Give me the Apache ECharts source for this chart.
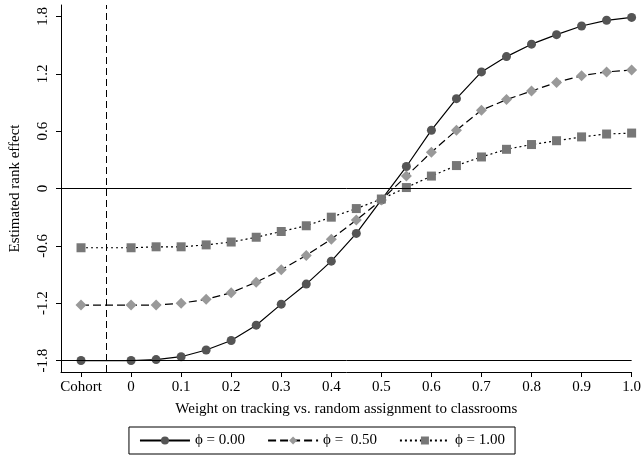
<!DOCTYPE html>
<html><head><meta charset="utf-8">
<script src="https://cdn.jsdelivr.net/npm/echarts@6/dist/echarts.min.js"></script>
<style>body{margin:0;background:#fff}#c{width:644px;height:462px}</style>
</head><body><div id="c"></div>
<script>
// x position -0.1 stands for "Cohort"
var xs = [-0.1, 0, 0.05, 0.1, 0.15, 0.2, 0.25, 0.3, 0.35, 0.4, 0.45, 0.5, 0.55, 0.6, 0.65, 0.7, 0.75, 0.8, 0.85, 0.9, 0.95, 1.0];
var phi0 = [-1.8, -1.8, -1.79, -1.76, -1.69, -1.59, -1.43, -1.21, -1.0, -0.76, -0.47, -0.12, 0.23, 0.61, 0.94, 1.22, 1.38, 1.51, 1.61, 1.7, 1.76, 1.79];
var phi50 = [-1.22, -1.22, -1.22, -1.2, -1.16, -1.09, -0.98, -0.85, -0.7, -0.53, -0.33, -0.12, 0.13, 0.38, 0.61, 0.82, 0.93, 1.02, 1.11, 1.18, 1.22, 1.24];
var phi100 = [-0.62, -0.62, -0.61, -0.61, -0.59, -0.56, -0.51, -0.45, -0.39, -0.3, -0.21, -0.11, 0.01, 0.13, 0.24, 0.33, 0.41, 0.46, 0.5, 0.54, 0.57, 0.58];
var xTicks = [-0.1, 0, 0.1, 0.2, 0.3, 0.4, 0.5, 0.6, 0.7, 0.8, 0.9, 1.0];
var yTicks = [-1.8, -1.2, -0.6, 0, 0.6, 1.2, 1.8];
var names = ['\u03d5 = 0.00', '\u03d5 =  0.50', '\u03d5 = 1.00'];

function pts(v) { return xs.map(function (x, i) { return [x, v[i]]; }); }
var font = 'Liberation Serif';
function ser(name, v, color, sym, size, type) {
  return {
    name: name, type: 'line', data: pts(v), symbol: sym, symbolSize: size,
    itemStyle: { color: color }, lineStyle: { color: '#000', width: 1.2, type: type },
    z: 3
  };
}
var s0 = ser(names[0], phi0, '#555', 'circle', 9, 'solid');
s0.markLine = {
  silent: true, symbol: 'none', label: { show: false },
  data: [
    { yAxis: 0, lineStyle: { color: '#000', width: 1, type: 'solid' } },
    { yAxis: -1.8, lineStyle: { color: '#000', width: 1, type: 'solid' } },
    { xAxis: -0.05, lineStyle: { color: '#000', width: 1, type: [7, 4] } }
  ]
};
var chart = echarts.init(document.getElementById('c'));
chart.setOption({
  animation: false,
  textStyle: { fontFamily: font },
  grid: { left: 60, right: 12, top: 5, bottom: 90 },
  xAxis: {
    type: 'value', min: -0.14, max: 1.0,
    name: 'Weight on tracking vs. random assignment to classrooms',
    nameLocation: 'middle', nameGap: 30,
    nameTextStyle: { fontSize: 15, color: '#000', fontFamily: font },
    axisLine: { onZero: false, lineStyle: { color: '#000' } },
    splitLine: { show: false },
    axisTick: { customValues: xTicks, length: 5, lineStyle: { color: '#000' } },
    axisLabel: {
      customValues: xTicks, fontSize: 15, color: '#000', fontFamily: font, margin: 8,
      formatter: function (v) { return v < -0.05 ? 'Cohort' : (v === 0 ? '0' : v.toFixed(1)); }
    }
  },
  yAxis: {
    type: 'value', min: -1.92, max: 1.92,
    name: 'Estimated rank effect', nameLocation: 'middle', nameGap: 38,
    nameTextStyle: { fontSize: 15, color: '#000', fontFamily: font },
    axisLine: { show: true, onZero: false, lineStyle: { color: '#000' } },
    splitLine: { show: false },
    axisTick: { show: true, customValues: yTicks, length: 5, lineStyle: { color: '#000' } },
    axisLabel: {
      customValues: yTicks, rotate: 90, fontSize: 15, color: '#000', fontFamily: font, margin: 10,
      formatter: function (v) { return v === 0 ? '0' : String(v); }
    }
  },
  legend: {
    bottom: 8, left: 'center', itemWidth: 50, itemHeight: 10, itemGap: 22,
    borderColor: '#000', borderWidth: 1, borderRadius: 0, padding: [6, 10],
    textStyle: { fontSize: 15, color: '#000', fontFamily: font },
    data: names
  },
  series: [
    s0,
    ser(names[1], phi50, '#999', 'diamond', 11, [8, 4]),
    ser(names[2], phi100, '#777', 'rect', 9, [2, 3])
  ]
});
</script></body></html>
